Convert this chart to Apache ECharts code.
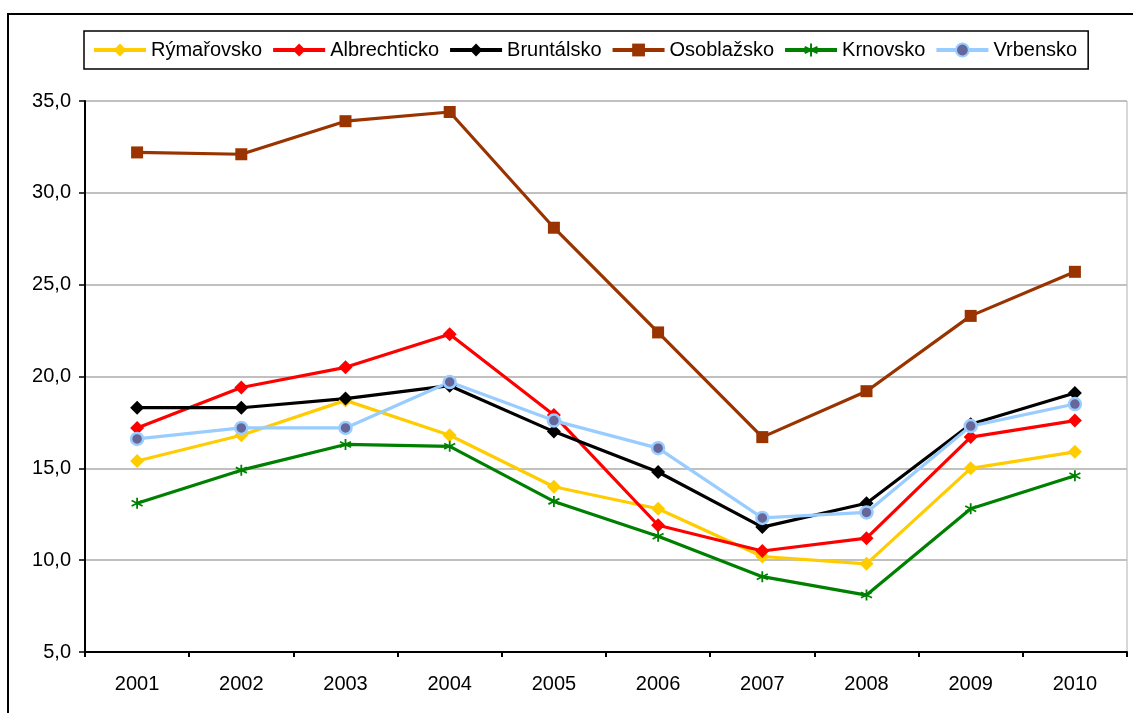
<!DOCTYPE html>
<html>
<head>
<meta charset="utf-8">
<script src="https://cdn.jsdelivr.net/npm/echarts@6/dist/echarts.min.js"></script>
<style>
html,body{margin:0;padding:0;background:#fff;}
#chart{width:1133px;height:713px;}
</style>
</head>
<body>
<div id="chart"></div>
<script>
const years = ['2001','2002','2003','2004','2005','2006','2007','2008','2009','2010'];
const rymarovsko  = [15.4, 16.8, 18.7, 16.8, 14.0, 12.8, 10.2,  9.8, 15.0, 15.9];
const albrechticko= [17.2, 19.4, 20.5, 22.3, 17.9, 11.9, 10.5, 11.2, 16.7, 17.6];
const bruntalsko  = [18.3, 18.3, 18.8, 19.5, 17.0, 14.8, 11.8, 13.1, 17.4, 19.1];
const osoblazsko  = [32.2, 32.1, 33.9, 34.4, 28.1, 22.4, 16.7, 19.2, 23.3, 25.7];
const krnovsko    = [13.1, 14.9, 16.3, 16.2, 13.2, 11.3,  9.1,  8.1, 12.8, 14.6];
const vrbensko    = [16.6, 17.2, 17.2, 19.7, 17.6, 16.1, 12.3, 12.6, 17.3, 18.5];
const seriesNames = ['Rýmařovsko','Albrechticko','Bruntálsko','Osoblažsko','Krnovsko','Vrbensko'];
const yTicks = [5, 35, 5]; // min, max, interval

const FONT = '"Liberation Sans", Arial, sans-serif';
const asterisk = 'path://M0,-6L0,6M-5.2,-3L5.2,3M-5.2,3L5.2,-3';

function mk(name, data, color, symbol, size, extra) {
  return Object.assign({
    name: name,
    type: 'line',
    data: data,
    symbol: symbol,
    symbolSize: size,
    showAllSymbol: true,
    lineStyle: { color: color, width: 3.2 },
    itemStyle: { color: color },
    emphasis: { disabled: true },
    animation: false
  }, extra || {});
}

const chart = echarts.init(document.getElementById('chart'));
chart.setOption({
  backgroundColor: '#ffffff',
  textStyle: { fontFamily: FONT },
  graphic: [{
    type: 'rect', silent: true,
    shape: { x: 8, y: 14, width: 1300, height: 900 },
    style: { fill: 'none', stroke: '#000', lineWidth: 2 }
  }],
  legend: {
    left: 84, top: 31,
    padding: [9, 11, 9, 8],
    borderColor: '#000', borderWidth: 1.5,
    itemWidth: 52, itemHeight: 16, itemGap: 9,
    lineStyle: { width: 4 },
    textStyle: { fontFamily: FONT, fontSize: 20, color: '#000' },
    data: seriesNames
  },
  grid: {
    left: 85, right: 6, top: 101, bottom: 61,
    show: true, borderColor: '#b0b0b0', borderWidth: 1
  },
  xAxis: {
    type: 'category',
    data: years,
    boundaryGap: true,
    axisLine: { lineStyle: { color: '#000', width: 2 } },
    axisTick: { show: true, length: 5, lineStyle: { color: '#000', width: 2 } },
    axisLabel: { color: '#000', fontSize: 20, fontFamily: FONT, margin: 22 },
    splitLine: { show: false }
  },
  yAxis: {
    type: 'value',
    min: yTicks[0], max: yTicks[1], interval: yTicks[2],
    axisLine: { show: true, lineStyle: { color: '#000', width: 2 } },
    axisTick: { show: true, length: 6, lineStyle: { color: '#000', width: 1.5 } },
    axisLabel: {
      color: '#000', fontSize: 20, fontFamily: FONT, margin: 14,
      formatter: v => v.toFixed(1).replace('.', ',')
    },
    splitLine: { show: true, lineStyle: { color: '#c0c0c0', width: 2 } }
  },
  series: [
    mk(seriesNames[0], rymarovsko, '#FFCC00', 'diamond', 14),
    mk(seriesNames[1], albrechticko, '#FF0000', 'diamond', 14),
    mk(seriesNames[2], bruntalsko, '#000000', 'diamond', 14),
    mk(seriesNames[3], osoblazsko, '#993300', 'rect', 12),
    mk(seriesNames[4], krnovsko, '#008000', asterisk, 11, {
      itemStyle: { color: '#008000', borderColor: '#008000', borderWidth: 1.8 }
    }),
    mk(seriesNames[5], vrbensko, '#99CCFF', 'circle', 12, {
      itemStyle: { color: '#666699', borderColor: '#99CCFF', borderWidth: 2.5 }
    })
  ]
});
</script>
</body>
</html>
